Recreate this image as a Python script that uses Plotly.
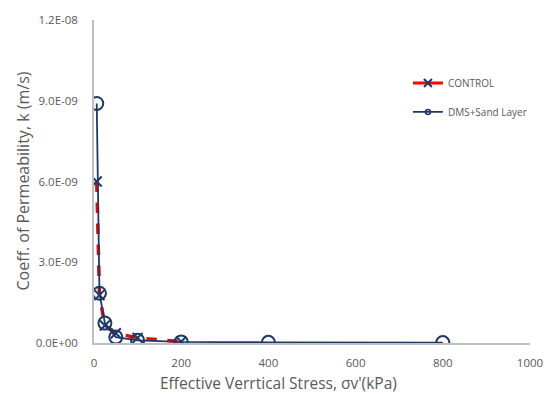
import plotly.graph_objects as go

stress_control = [6.25, 12.5, 25, 50, 100, 200]
k_control = [6.0e-9, 1.78e-9, 0.65e-9, 0.36e-9, 0.19e-9, 0.05e-9]

stress_dms = [6.25, 12.5, 25, 50, 100, 200, 400, 800]
k_dms = [8.9e-9, 1.85e-9, 0.74e-9, 0.22e-9, 0.10e-9, 0.04e-9, 0.025e-9, 0.015e-9]

y_tickvals = [0, 3e-9, 6e-9, 9e-9, 1.2e-8]
y_ticktext = ["0.0E+00", "3.0E-09", "6.0E-09", "9.0E-09", "1.2E-08"]
x_tickvals = [0, 200, 400, 600, 800, 1000]

x_title = "Effective Verrtical Stress, σv'(kPa)"
y_title = "Coeff. of Permeability, k (m/s)"

navy = "#1F3864"
gray_text = "#595959"

fig = go.Figure()
fig.add_trace(go.Scatter(
    x=stress_control, y=k_control, name="CONTROL", mode="lines+markers",
    line=dict(color="#FF0000", width=3.5, dash="dash"),
    marker=dict(symbol="x-thin-open", size=10, color=navy, line=dict(color=navy, width=2)),
    showlegend=False,
))
fig.add_trace(go.Scatter(
    x=stress_dms, y=k_dms, name="DMS+Sand Layer", mode="lines+markers",
    line=dict(color=navy, width=1.8),
    marker=dict(symbol="circle-open", size=13, color=navy, line=dict(color=navy, width=2)),
    showlegend=False,
))
# legend entries (smaller symbols, as in the reference legend)
fig.add_trace(go.Scatter(
    x=[None], y=[None], name="CONTROL", mode="lines+markers",
    line=dict(color="#FF0000", width=3, dash="solid"),
    marker=dict(symbol="x-thin-open", size=8, color=navy, line=dict(color=navy, width=2)),
    legendgroup="a",
))
fig.add_trace(go.Scatter(
    x=[None], y=[None], name="DMS+Sand Layer", mode="lines+markers",
    line=dict(color=navy, width=1.8),
    marker=dict(symbol="circle-open", size=5, color=navy, line=dict(color=navy, width=1.5)),
    legendgroup="b",
))

fig.update_layout(
    width=544, height=394,
    margin=dict(l=94, r=14, t=20, b=51),
    plot_bgcolor="white", paper_bgcolor="white",
    font=dict(family="Open Sans", color=gray_text),
    showlegend=True,
    legend=dict(x=0.72, y=0.85, xanchor="left", yanchor="top",
                font=dict(size=10, color=gray_text), traceorder="grouped",
                tracegroupgap=10, bgcolor="rgba(0,0,0,0)", itemsizing="trace"),
    xaxis=dict(range=[0, 1000], tickvals=x_tickvals, showgrid=False, zeroline=False,
               showline=True, linecolor="#BFBFBF", linewidth=1.5, ticks="", automargin=False,
               tickfont=dict(size=11.5, color=gray_text), ticklabelstandoff=8),
    yaxis=dict(range=[0, 1.2e-8], tickvals=y_tickvals, ticktext=y_ticktext, showgrid=False,
               zeroline=False, showline=True, linecolor="#BFBFBF", linewidth=1.5, ticks="", automargin=False,
               tickfont=dict(size=11.5, color=gray_text), ticklabelstandoff=12),
    annotations=[
        dict(text=x_title, xref="paper", yref="paper", x=0.424, y=-0.124,
             xanchor="center", yanchor="middle", showarrow=False, borderpad=0,
             font=dict(size=15.5, color=gray_text)),
        dict(text=y_title, xref="paper", yref="paper", x=-0.165, y=0.5, textangle=-90,
             xanchor="center", yanchor="middle", showarrow=False, borderpad=0,
             font=dict(size=16, color=gray_text)),
    ],
)

fig.write_html("out.html")
